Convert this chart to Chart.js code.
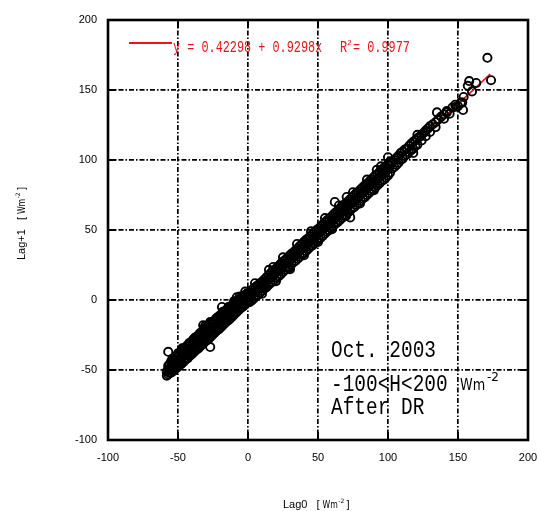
<!DOCTYPE html>
<html>
<head>
<meta charset="utf-8">
<script src="https://cdn.jsdelivr.net/npm/chart.js@4.4.1/dist/chart.umd.min.js"></script>
<style>
html,body{margin:0;padding:0;background:#fff;}
#wrap{width:538px;height:511px;position:relative;}
</style>
</head>
<body>
<div id="wrap"><canvas id="c" width="538" height="511"></canvas></div>
<script>
// ---- data : [Lag0, Lag+1] ----
const lowRange = [
[-58,-54],[-58,-51],[-57,-53],[-57,-50],[-57,-47],[-56,-52],[-56,-49],[-56,-46],[-55,-52],[-55,-48],[-55,-44],
[-54,-51],[-54,-47],[-54,-43],[-53,-50.5],[-53,-46],[-53,-42.5],[-52,-49],[-52,-45],[-52,-41],
[-51,-48.5],[-51,-44.5],[-51,-40],[-50,-47.5],[-50,-43],[-50,-39.5],[-49,-46.5],[-49,-42],[-49,-38.5],
[-48,-46],[-48,-41.5],[-48,-37],[-47,-45],[-47,-40],[-47,-36.5],[-46,-44],[-46,-39.5],[-46,-35],
[-45,-43],[-45,-38],[-45,-34.5],[-44,-42],[-44,-37.5],[-44,-33],[-43,-41.5],[-43,-36],[-43,-32.5],
[-42,-40],[-42,-35.5],[-42,-31],[-41,-39.5],[-41,-34.5],[-41,-30.5],[-40,-38.5],[-40,-33],[-40,-29.5],
[-39,-37.5],[-39,-32.5],[-39,-28],[-38,-36.5],[-38,-31.5],[-38,-27.5],[-37,-35.5],[-37,-30.5],[-37,-26.5],
[-36,-35],[-36,-29.5],[-36,-26],[-35,-34],[-35,-29],[-35,-24.5],[-34,-33],[-34,-27.5],[-34,-24],
[-33,-32],[-33,-27],[-33,-23],[-32,-31],[-32,-26],[-32,-22],[-31,-30],[-31,-25],[-31,-21.5],
[-30,-29],[-30,-24],[-30,-20],[-29,-28.5],[-29,-23],[-29,-19.5],[-28,-27.5],[-28,-22],[-28,-18.5],
[-27,-26.5],[-27,-21.5],[-27,-17],[-26,-25.5],[-26,-20.5],[-26,-16.5],[-25,-24.5],[-25,-19.5],[-25,-15.5],
[-24,-23.5],[-24,-18.5],[-24,-15],[-23,-22.5],[-23,-17.5],[-23,-13.5],[-22,-21.5],[-22,-16.5],[-22,-13],
[-21,-21],[-21,-15.5],[-21,-12],[-20,-20],[-20,-14.5],[-20,-11],[-19,-19],[-19,-14],[-19,-10.5],
[-18,-18],[-18,-12.5],[-18,-9],[-17,-17],[-17,-12],[-17,-8.5],[-16,-16],[-16,-11],[-16,-7.5],
[-15,-15],[-15,-10],[-15,-7],[-14,-14.5],[-14,-9],[-14,-6],[-13,-13.5],[-13,-8.5],[-13,-5],
[-12,-12.5],[-12,-7.5],[-12,-4.5],[-11,-11.5],[-11,-6.5],[-11,-3.5],[-10,-10.5],[-10,-5.5],[-10,-2.5],
[-9,-9.5],[-9,-5],[-9,-2],[-8,-8.5],[-8,-4],[-8,-1],[-7,-7.5],[-7,-3],[-7,-0.5],
[-6,-6.5],[-6,-2],[-6,0.5],[-5,-5.5],[-5,-1.5],[-5,1.5],[-4,-5],[-4,-0.5],[-4,2],
[-3,-4],[-3,0.5],[-3,3],[-2,-3],[-2,1],[-2,3.5],[-1,-2],[-1,2],[-1,4.5],[0,-1],[0,3],[0,5]
];
const lowFill = [
[-55.5,-49.5],[-52.5,-46.5],[-49.5,-43.5],[-46.5,-40.5],[-43.5,-38],[-40.5,-35],[-37.5,-32],[-34.5,-29.5],
[-31.5,-26.5],[-28.5,-24],[-25.5,-21],[-22.5,-18.5],[-19.5,-15.5],[-16.5,-13],[-13.5,-10],[-10.5,-7],
[-7.5,-4.5],[-4.5,-1.5],[-1.5,1],
[-54,-42],[-50,-38],[-46,-34.5],[-42,-31],[-38,-27],[-34,-23.5],[-30,-19.5],[-26,-16],[-22,-12.5],
[-18,-8.5],[-14,-5],[-10,-1],[-6,2.5],[-2,6]
];
const midRange = [
[1,-1.5],[1,2],[1,5.5],[2.5,-0.5],[2.5,3],[2.5,7],[4,1],[4,5],[4,8],[5.5,2.5],[5.5,6],[5.5,9.5],
[7,3.5],[7,7.5],[7,10.5],[8.5,5],[8.5,8.5],[8.5,12],[10,6.5],[10,10],[10,13],[11.5,8],[11.5,11.5],[11.5,14.5],
[13,9],[13,13],[13,16],[14.5,10.5],[14.5,14.5],[14.5,17.5],[16,12],[16,15.5],[16,19],[17.5,13],[17.5,17],[17.5,20],
[19,14.5],[19,18.5],[19,21.5],[20.5,16],[20.5,20],[20.5,23],[22,17],[22,21],[22,24.5],[23.5,18.5],[23.5,22.5],[23.5,26],
[25,20],[25,24],[25,27.5],[26.5,21.5],[26.5,25.5],[26.5,28.5],[28,23],[28,26.5],[28,30],[29.5,24],[29.5,28],[29.5,31.5],
[31,25.5],[31,29.5],[31,33],[32.5,27],[32.5,31],[32.5,34],[34,28],[34,32.5],[34,35.5],[35.5,29.5],[35.5,33.5],[35.5,37],
[37,31],[37,35],[37,38.5],[38.5,32.5],[38.5,36.5],[38.5,40],[40,33.5],[40,38],[40,41.5],[41.5,35],[41.5,39],[41.5,43],
[43,36.5],[43,40.5],[43,44],[44.5,38],[44.5,42],[44.5,45.5],[46,39],[46,43.5],[46,47],[47.5,40.5],[47.5,44.5],[47.5,48.5],
[49,42],[49,46],[49,50],[50.5,43.5],[50.5,47.5],[50.5,51],[52,44.5],[52,49],[52,52.5],[53.5,46],[53.5,50.5],[53.5,54],
[55,47.5],[55,51.5],[55,55.5],[56.5,49],[56.5,53],[56.5,57],[58,50],[58,54.5],[58,58],[59.5,51.5],[59.5,56],[59.5,59.5],
[61,53],[61,57],[61,61],[62.5,54.5],[62.5,58.5],[62.5,62.5],[64,55.5],[64,60],[64,63.5],[65.5,57],[65.5,61.5],[65.5,65],
[67,58.5],[67,62.5],[67,66.5],[68.5,60],[68.5,64],[68.5,68],[70,61],[70,65.5],[70,69],[71.5,62.5],[71.5,67],[71.5,70.5],
[73,64],[73,68.5],[73,72],[74.5,65.5],[74.5,69.5],[74.5,73.5],[76,66.5],[76,71],[76,75],[77.5,68],[77.5,72.5],[77.5,76.5],
[79,69.5],[79,74],[79,77.5],[80.5,71],[80.5,75.5],[80.5,79],[82,72.5],[82,76.5],[82,80.5],[83.5,73.5],[83.5,78],[83.5,82],
[85,75],[85,79.5],[85,83],[86.5,76.5],[86.5,81],[86.5,84.5],[88,78],[88,82],[88,86],[89.5,79],[89.5,83.5],[89.5,87.5],
[91,80.5],[91,85],[91,89],[92.5,82],[92.5,86.5],[92.5,90],[94,83.5],[94,88],[94,91.5],[95.5,85],[95.5,89],[95.5,93],
[97,86],[97,90.5],[97,94.5],[98.5,87.5],[98.5,92],[98.5,95.5],[100,89],[100,93.5],[100,97]
];
const midEdges = [
[5,12],[15,21.5],[25,30.5],[35,40],[45,49],[55,58.5],[65,67.5],[75,77],[85,86],[95,95.5],
[10,4.5],[20,13.5],[30,23],[40,32],[50,41.5],[60,50.5],[70,60],[80,69],[90,78.5]
];
const highRange = [
[101.5,91],[101.5,96],[101.5,99],[103,94],[103,98.5],[104.5,95],[104.5,100],[106,96.5],[106,101.5],
[107.5,98],[107.5,103],[109,100],[109,105],[110.5,101],[110.5,106],[112,103],[112,107.5],[113.5,104],[113.5,108],
[115,105.5],[115,110],[116.5,107],[116.5,111.5],[118,108],[118,113],[119.5,110],[119.5,114],[121,111],[121,115.5],
[122.5,116.5],[124,114],[124,118],[125.5,119.5],[127,117],[127,121],[128.5,122.5],[130,120],[130,124],
[132,125.5],[134,123.5],[134,127],[136,129],[138,131],[140,129.5],[140,132.5],[142,134],[142,135],[144,133],
[146,137.5],[148,139.5],[148.6,138],[150,138.5],[152,141],[153,141],[153.6,135.7],[154,145],[160,149]
];
const outliers = [
[-57,-37],[-47,-34.5],[-39,-28.6],[-32,-18],[-30.7,-18.6],[-27,-15.7],[-27,-33.6],[-18.6,-5],[-8,2],
[18,23.6],[30,22],[62,70],[70.5,73.6],[73,59],[92,93],[100,102],[118,105],[121,118],[135,134],
[157,153],[158,156.4],[163,155],[171,173],[173.6,157]
];
const fitIntercept = 0.42298;
const fitSlope = 0.9298;
const fitRange = [-58, 173];
const xTicks = [-100,-50,0,50,100,150,200];
const yTicks = [-100,-50,0,50,100,150,200];

const toPts = arr => arr.map(p => ({x:p[0], y:p[1]}));
const scatterData = [lowRange, lowFill, midRange, midEdges, highRange, outliers].flatMap(toPts);
const fitData = fitRange.map(v => ({x:v, y:fitIntercept + fitSlope*v}));

const RED = '#e8161c';

function drawUnit(ctx, main, x0, base, mainFont) {
  ctx.font = mainFont;
  ctx.fillText(main, x0, base);
  let w = ctx.measureText(main).width;
  let x = x0 + w + 9;
  ctx.font = "10px 'DejaVu Sans'";
  ctx.fillText('[', x, base); x += 6;
  ctx.save(); ctx.translate(x, base); ctx.scale(0.78, 1);
  ctx.font = "10px 'DejaVu Sans'"; ctx.fillText('Wm', 0, 0);
  const wm = ctx.measureText('Wm').width * 0.78;
  ctx.restore();
  x += wm + 0.5;
  ctx.font = "6px 'DejaVu Sans'";
  ctx.fillText('-2', x, base - 5); x += ctx.measureText('-2').width + 1.5;
  ctx.font = "10px 'DejaVu Sans'";
  ctx.fillText(']', x, base);
}

function narrow(ctx, t, x0, b, font, sx) {
  ctx.save(); ctx.translate(x0, b); ctx.scale(sx, 1); ctx.font = font; ctx.fillText(t, 0, 0); ctx.restore();
}

const decor = {
  id: 'decor',
  afterDraw(chart) {
    const {ctx, chartArea: a, scales: {x, y}} = chart;
    ctx.save();
    ctx.setLineDash([]);
    ctx.strokeStyle = '#000';
    ctx.lineWidth = 2;
    ctx.beginPath();
    xTicks.forEach(v => {
      const px = x.getPixelForValue(v);
      ctx.moveTo(px, a.bottom); ctx.lineTo(px, a.bottom - 8);
      ctx.moveTo(px, a.top); ctx.lineTo(px, a.top + 8);
    });
    yTicks.forEach(v => {
      const py = y.getPixelForValue(v);
      ctx.moveTo(a.left, py); ctx.lineTo(a.left + 8, py);
      ctx.moveTo(a.right, py); ctx.lineTo(a.right - 8, py);
    });
    ctx.stroke();
    ctx.lineWidth = 2.6;
    ctx.strokeRect(a.left, a.top, a.right - a.left, a.bottom - a.top);

    // fit equation legend
    ctx.strokeStyle = RED; ctx.lineWidth = 1.8;
    ctx.beginPath(); ctx.moveTo(129, 43); ctx.lineTo(172, 43); ctx.stroke();
    ctx.fillStyle = RED;
    ctx.textBaseline = 'alphabetic';
    const eqFont = "16px 'Liberation Mono'";
    narrow(ctx, 'y = 0.42298 + 0.9298x', 173, 52, eqFont, 0.74);
    narrow(ctx, 'R', 340, 52, eqFont, 0.74);
    ctx.font = "8px 'Liberation Mono'";
    ctx.fillText('2', 347, 45);
    narrow(ctx, '= 0.9977', 353, 52, eqFont, 0.74);

    // annotation
    ctx.fillStyle = '#000';
    const big = "24px 'Liberation Mono'";
    narrow(ctx, 'Oct. 2003', 331, 357, big, 0.81);
    narrow(ctx, '-100<H<200', 331, 391, big, 0.81);
    narrow(ctx, 'After DR', 331, 414, big, 0.81);
    narrow(ctx, 'Wm', 460, 390, "16px 'DejaVu Sans'", 0.8);
    ctx.font = "12px 'DejaVu Sans'"; ctx.fillText('-2', 487, 381);

    // axis titles
    drawUnit(ctx, 'Lag0', 283, 508, "11px 'Liberation Sans'");
    ctx.save(); ctx.translate(25, 260); ctx.rotate(-Math.PI / 2);
    drawUnit(ctx, 'Lag+1', 0, 0, "11px 'Liberation Sans'");
    ctx.restore();
    ctx.restore();
  }
};

const axisCommon = (ticks) => ({
  type: 'linear',
  min: ticks[0], max: ticks[ticks.length - 1],
  ticks: { stepSize: 50, color: '#000', font: { family: "'Liberation Sans'", size: 11 }, padding: 11 },
  grid: { color: '#000', lineWidth: 1.7, drawTicks: false },
  border: { display: false, dash: [5, 2, 1.5, 2] }
});

const xOpts = axisCommon(xTicks);
xOpts.afterFit = s => { s.height = 71; s.paddingLeft = 0; s.paddingRight = 0; };
const yOpts = axisCommon(yTicks);
yOpts.afterFit = s => { s.width = 108; s.paddingTop = 0; s.paddingBottom = 0; };

new Chart(document.getElementById('c'), {
  type: 'scatter',
  data: {
    datasets: [
      { label: 'obs', data: scatterData, order: 0, pointStyle: 'circle', pointRadius: 4.1,
        pointBorderWidth: 1.9, borderColor: '#000', backgroundColor: 'rgba(0,0,0,0)', showLine: false },
      { label: 'fit', type: 'line', data: fitData, order: 1, borderColor: RED, borderWidth: 1.6,
        pointRadius: 0, fill: false }
    ]
  },
  options: {
    responsive: false,
    animation: false,
    layout: { padding: { top: 20, right: 10, left: 0, bottom: 0 } },
    plugins: { legend: { display: false }, tooltip: { enabled: false } },
    scales: { x: xOpts, y: yOpts }
  },
  plugins: [decor]
});
</script>
</body>
</html>
